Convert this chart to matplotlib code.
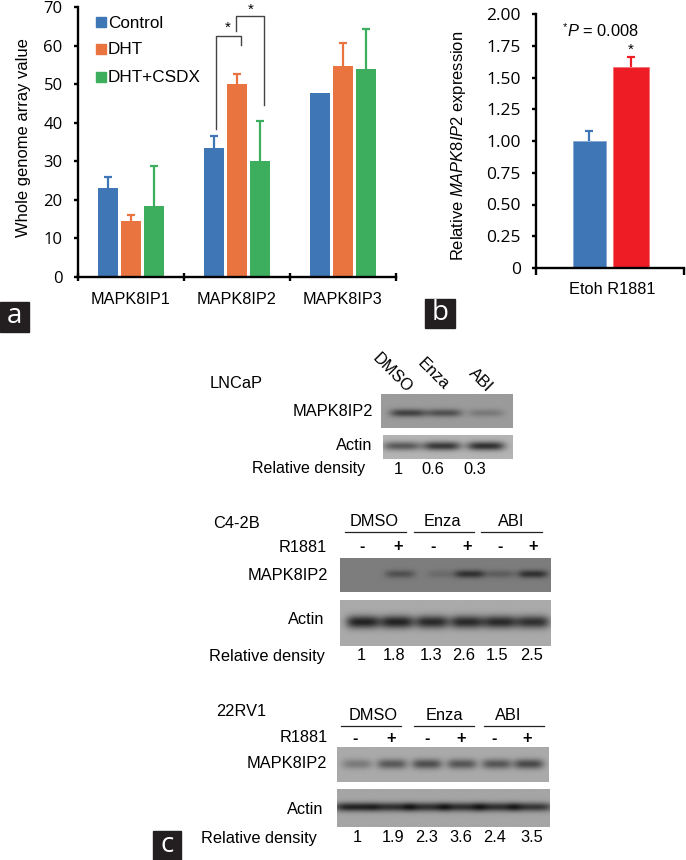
import numpy as np
import matplotlib
matplotlib.use("Agg")
import matplotlib.pyplot as plt
from matplotlib.patches import Rectangle

plt.rcParams["font.family"] = ["Liberation Sans", "DejaVu Sans"]
plt.rcParams["mathtext.fontset"] = "custom"
plt.rcParams["mathtext.rm"] = "Liberation Sans"
plt.rcParams["mathtext.it"] = "Liberation Sans:italic"

# panel a
genes = ["MAPK8IP1", "MAPK8IP2", "MAPK8IP3"]
groups = ["Control", "DHT", "DHT+CSDX"]
control = [23.2, 33.5, 47.8]
dht = [14.5, 50.0, 54.8]
csdx = [18.4, 30.0, 53.8]
control_err = [2.8, 3.0, 0.0]
dht_err = [1.7, 2.7, 5.9]
csdx_err = [10.4, 10.5, 10.4]
a_ticks = [0, 10, 20, 30, 40, 50, 60, 70]

# panel b
b_values = [1.0, 1.585]
b_err = [0.08, 0.08]
b_ticks = [0, 0.25, 0.5, 0.75, 1.0, 1.25, 1.5, 1.75, 2.0]
b_ticklabels = ["0", "0.25", "0.50", "0.75", "1.00", "1.25", "1.50", "1.75", "2.00"]

# panel c, band darkness per lane
lncap_density = ["1", "0.6", "0.3"]
lncap_target = [0.75, 0.62, 0.28]
lncap_actin = [0.62, 0.85, 0.9]
c42b_density = ["1", "1.8", "1.3", "2.6", "1.5", "2.5"]
c42b_target = [0.0, 0.5, 0.2, 0.85, 0.35, 0.85]
c42b_actin = [1.0, 1.0, 0.95, 0.95, 0.95, 0.9]
rv1_density = ["1", "1.9", "2.3", "3.6", "2.4", "3.5"]
rv1_target = [0.35, 0.6, 0.68, 0.62, 0.62, 0.72]
rv1_actin = [1.0, 0.9, 0.9, 0.9, 0.9, 0.85]
signs = ["-", "+", "-", "+", "-", "+"]
drugs = ["DMSO", "Enza", "ABI"]

BLUE = "#3f76b5"
ORANGE = "#e97440"
GREEN = "#3cae5e"
RED = "#ee1c25"
W, H = 686, 860

fig = plt.figure(figsize=(W / 100, H / 100), dpi=100)


def px_axes(x0, x1, y0, y1):
    return fig.add_axes([x0 / W, 1 - y1 / H, (x1 - x0) / W, (y1 - y0) / H])


def style_axes(ax, size):
    for s in ["top", "right"]:
        ax.spines[s].set_visible(False)
    for s in ["left", "bottom"]:
        ax.spines[s].set_linewidth(1.7)
    ax.tick_params(axis="y", length=3, width=1.7, labelsize=size, pad=8)
    for t in ax.get_yticklabels():
        t.set_fontfamily("Open Sans")
    ax.patch.set_alpha(0)


def whisker(ax, xx, v, e, col):
    # upper whisker only, no cap on the bar top
    _, caps, _ = ax.errorbar(xx, v, yerr=[[0], [e]], color=col, elinewidth=1.6, capsize=3, capthick=1.6)
    caps[0].set_visible(False)


# panel a
ax = px_axes(78, 396, 7, 277)
x = np.arange(3) + 0.5
for off, vals, errs, col in [(-0.217, control, control_err, BLUE),
                             (0, dht, dht_err, ORANGE),
                             (0.217, csdx, csdx_err, GREEN)]:
    ax.bar(x + off, vals, 0.195, color=col)
    for xx, v, e in zip(x + off, vals, errs):
        if e > 0:
            whisker(ax, xx, v, e, col)
ax.set_xlim(0, 3)
ax.set_ylim(0, 70)
ax.set_yticks(a_ticks)
style_axes(ax, 12)
ax.set_xticks([0, 1, 2, 3])
ax.set_xticklabels([])
ax.tick_params(axis="x", which="major", direction="inout", length=6, width=1.7)
ax.set_xticks(x, minor=True)
ax.set_xticklabels(genes, minor=True, fontsize=11.7)
ax.tick_params(axis="x", which="minor", length=0, pad=10.5)
ax.set_ylabel("Whole genome array value", fontsize=11.9)
ax.yaxis.set_label_coords(-0.148, 0.515)

# significance brackets
ax.plot([1.30, 1.30, 1.538, 1.538], [38.4, 62.5, 62.5, 60.1], color="#444444", lw=1, clip_on=False)
ax.plot([1.49, 1.49, 1.755, 1.755], [63.8, 67.7, 67.7, 44.6], color="#444444", lw=1, clip_on=False)
ax.text(1.41, 62.8, "*", ha="center", va="bottom", fontsize=11)
ax.text(1.63, 67.4, "*", ha="center", va="bottom", fontsize=11)

# panel b
bx = px_axes(536, 684, 14, 268)
bx.bar([0.361, 0.642], b_values, [0.223, 0.243], color=[BLUE, RED], edgecolor=["#7fa3cf", "#f26a6f"], linewidth=0.5)
for xx, v, e, col in zip([0.361, 0.642], b_values, b_err, [BLUE, RED]):
    whisker(bx, xx, v, e, col)
bx.set_xlim(0, 1)
bx.set_ylim(0, 2)
bx.set_yticks(b_ticks)
bx.set_yticklabels(b_ticklabels)
style_axes(bx, 12.5)
bx.set_xticks([0, 1])
bx.set_xticklabels([])
bx.tick_params(axis="x", length=5, width=1.7)
bx.set_ylabel(r"Relative $\mathit{MAPK8IP2}$ expression", fontsize=11.9)
bx.yaxis.set_label_coords(-0.46, 0.48)
bx.text(0.642, 1.665, "*", ha="center", va="bottom", fontsize=11)

# everything else is placed in image pixels
ov = fig.add_axes([0, 0, 1, 1], zorder=-1)
ov.axis("off")


def txt(x, y, s, ha="left", size=11.8, **kw):
    ov.text(x, y + 1, s, ha=ha, va="center", fontsize=size, **kw)


def blot(x0, x1, y0, y1, bg, lanes, dark, half, yc, thick):
    xs = np.linspace(x0, x1, 400)
    ys = np.linspace(y0, y1, 120)
    img = np.full((120, 400), float(bg))
    for c, d in zip(lanes, dark):
        prof_x = np.exp(-np.abs((xs - c) / half) ** 4)
        prof_y = np.exp(-((ys - yc) / thick) ** 2)
        img -= (bg - 35) * d * np.outer(prof_y, prof_x)
    ov.imshow(img, extent=(x0, x1, y1, y0), cmap="gray", vmin=0, vmax=255, aspect="auto")


# legend of panel a
for yy, name, col in zip([22, 49, 77], groups, [BLUE, ORANGE, GREEN]):
    ov.add_patch(Rectangle((96, yy - 5), 10, 10, color=col))
    txt(108, yy, name, size=12.3)

txt(563, 26, "*", size=8)
txt(567, 30, r"$\mathit{P}$ = 0.008", size=11.8)
txt(612, 288, "Etoh R1881", ha="center")

# LNCaP
txt(210, 383, "LNCaP")
for xx, yy, s in zip([392, 433, 480], [372, 373, 379], drugs):
    txt(xx, yy, s, ha="center", rotation=-45, rotation_mode="anchor")
blot(381, 513, 394, 428, 155, [408, 444, 486], lncap_target, 18, 413, 4)
blot(383, 513, 435, 459, 180, [402, 442, 486], lncap_actin, 19, 446, 4.5)
txt(373, 411, "MAPK8IP2", ha="right")
txt(372, 444, "Actin", ha="right")
txt(365, 468, "Relative density", ha="right", size=11.5)
for xx, s in zip([398, 433, 475], lncap_density):
    txt(xx, 468, s, ha="center")

# C4-2B
txt(213, 522, "C4-2B")
for xx, s in zip([374, 442, 511], drugs):
    txt(xx, 521, s, ha="center")
for a0, a1 in [(345, 406), (414, 474), (481, 542)]:
    ov.plot([a0, a1], [532, 532], color="#222222", lw=0.9)
txt(327, 546, "R1881", ha="right")
for xx, s in zip([362, 398, 433, 467, 500, 533], signs):
    txt(xx, 546, s, ha="center", fontweight="bold")
blot(340, 551, 558, 592, 125, [363, 400, 442, 470, 500, 533], c42b_target, 15, 574, 4)
blot(340, 551, 600, 646, 170, [363, 397, 432, 467, 500, 533], c42b_actin, 17, 622, 6.5)
txt(328, 574, "MAPK8IP2", ha="right")
txt(324, 618, "Actin", ha="right")
txt(325, 655, "Relative density", ha="right")
for xx, s in zip([361, 394, 431, 464, 497, 532], c42b_density):
    txt(xx, 655, s, ha="center")

# 22RV1
txt(216, 710, "22RV1")
for xx, s in zip([373, 444, 508], drugs):
    txt(xx, 714, s, ha="center")
for a0, a1 in [(341, 401), (414, 474), (484, 544)]:
    ov.plot([a0, a1], [726, 726], color="#222222", lw=0.9)
txt(328, 737, "R1881", ha="right")
for xx, s in zip([355, 391, 427, 461, 494, 527], signs):
    txt(xx, 737, s, ha="center", fontweight="bold")
blot(337, 549, 747, 782, 170, [357, 392, 427, 462, 497, 529], rv1_target, 15, 764, 5)
blot(337, 550, 789, 827, 165, [355, 392, 427, 462, 497, 532], rv1_actin, 21, 807, 4.5)
txt(327, 763, "MAPK8IP2", ha="right")
txt(323, 809, "Actin", ha="right")
txt(317, 837, "Relative density", ha="right")
for xx, s in zip([357, 393, 427, 461, 495, 532], rv1_density):
    txt(xx, 837, s, ha="center")

# panel letters
for x0, x1, y0, y1, s in [(0, 29, 302, 332, "a"), (425, 455, 299, 328, "b"), (153, 181, 831, 860, "c")]:
    ov.add_patch(Rectangle((x0, y0), x1 - x0, y1 - y0, color="#231f20"))
    ov.text((x0 + x1) / 2, (y0 + y1) / 2 - 1, s, color="white", ha="center", va="center", fontsize=20, family="Open Sans")

ov.set_xlim(0, W)
ov.set_ylim(H, 0)

fig.savefig("out.png", dpi=100)
